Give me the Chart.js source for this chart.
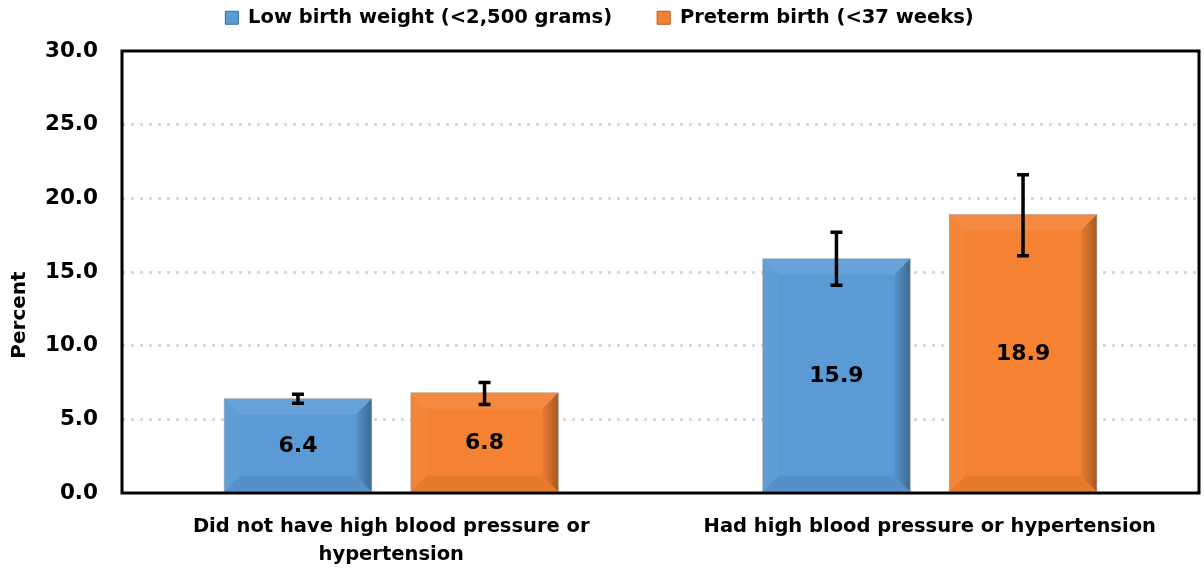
<!DOCTYPE html>
<html>
<head>
<meta charset="utf-8">
<script src="https://cdn.jsdelivr.net/npm/chart.js@4"></script>
<style>
  html, body { margin: 0; padding: 0; background: #fff; }
  #wrap { width: 1204px; height: 568px; }
</style>
</head>
<body>
<div id="wrap"><canvas id="bpChart" width="1204" height="568"></canvas></div>
<script>
// Categories and series
const categories = [
  ['Did not have high blood pressure or', 'hypertension'],
  'Had high blood pressure or hypertension'
];
const seriesNames = ['Low birth weight (<2,500 grams)', 'Preterm birth (<37 weeks)'];
const lowBirthWeight = [6.4, 15.9];
const pretermBirth = [6.8, 18.9];
// 95% confidence limits
const lowBirthWeightLo = [6.1, 14.1];
const lowBirthWeightHi = [6.7, 17.7];
const pretermBirthLo = [6.0, 16.1];
const pretermBirthHi = [7.5, 21.6];
const yTicks = [0, 5, 10, 15, 20, 25, 30];

const FONT = '"DejaVu Sans", sans-serif';
const blue = '#5b9bd5';
const orange = '#f58232';

// bevelled look for each bar
const bevelPlugin = {
  id: 'bevel',
  afterDatasetsDraw(chart) {
    const ctx = chart.ctx;
    chart.data.datasets.forEach((ds, i) => {
      chart.getDatasetMeta(i).data.forEach(bar => {
        const l = bar.x - bar.width / 2, r = bar.x + bar.width / 2;
        const t = bar.y, b = bar.base;
        const e = Math.min(16, (b - t) / 2.5);
        const poly = (pts, fill) => {
          ctx.beginPath();
          ctx.moveTo(pts[0][0], pts[0][1]);
          pts.slice(1).forEach(p => ctx.lineTo(p[0], p[1]));
          ctx.closePath();
          ctx.fillStyle = fill;
          ctx.fill();
        };
        ctx.save();
        poly([[l, t], [r, t], [r - e, t + e], [l + e, t + e]], 'rgba(255,255,255,0.08)');
        poly([[l, t], [l + e, t + e], [l + e, b - e], [l, b]], 'rgba(255,255,255,0.03)');
        const g = ctx.createLinearGradient(r - e, 0, r, 0);
        g.addColorStop(0, 'rgba(0,0,0,0.04)');
        g.addColorStop(1, 'rgba(0,0,0,0.32)');
        poly([[r, t], [r, b], [r - e, b - e], [r - e, t + e]], g);
        poly([[l, b], [r, b], [r - e, b - e], [l + e, b - e]], 'rgba(0,0,0,0.06)');
        ctx.strokeStyle = 'rgba(140,140,140,0.45)';
        ctx.lineWidth = 1;
        ctx.strokeRect(l, t, r - l, b - t);
        ctx.restore();
      });
    });
  }
};

// error bars and value labels
const errorPlugin = {
  id: 'errors',
  afterDatasetsDraw(chart) {
    const ctx = chart.ctx;
    const yScale = chart.scales.y;
    const lows = [lowBirthWeightLo, pretermBirthLo];
    const highs = [lowBirthWeightHi, pretermBirthHi];
    chart.data.datasets.forEach((ds, i) => {
      chart.getDatasetMeta(i).data.forEach((bar, j) => {
        ctx.save();
        ctx.fillStyle = '#000';
        ctx.font = 'bold 22px ' + FONT;
        ctx.textAlign = 'center';
        ctx.textBaseline = 'middle';
        ctx.fillText(ds.data[j].toFixed(1), bar.x, (bar.y + bar.base) / 2 + 1);
        const yLo = yScale.getPixelForValue(lows[i][j]);
        const yHi = yScale.getPixelForValue(highs[i][j]);
        ctx.strokeStyle = '#000';
        ctx.lineWidth = 3.5;
        ctx.beginPath();
        ctx.moveTo(bar.x, yLo);
        ctx.lineTo(bar.x, yHi);
        ctx.moveTo(bar.x - 6, yLo);
        ctx.lineTo(bar.x + 6, yLo);
        ctx.moveTo(bar.x - 6, yHi);
        ctx.lineTo(bar.x + 6, yHi);
        ctx.stroke();
        ctx.restore();
      });
    });
  }
};

// black frame around the plot area, plus the axis title
const framePlugin = {
  id: 'frame',
  afterDraw(chart) {
    const a = chart.chartArea;
    const ctx = chart.ctx;
    ctx.save();
    ctx.strokeStyle = '#000';
    ctx.lineWidth = 3;
    ctx.strokeRect(a.left, a.top, a.right - a.left, a.bottom - a.top);
    ctx.translate(20, 315);
    ctx.rotate(-Math.PI / 2);
    ctx.fillStyle = '#000';
    ctx.font = 'bold 20px ' + FONT;
    ctx.textAlign = 'center';
    ctx.textBaseline = 'middle';
    ctx.fillText('Percent', 0, 0);
    ctx.restore();
  }
};

// legend items sit far apart, so the legend box starts above the canvas
const legendShift = 37;
const legendHeight = {
  id: 'legendHeight',
  beforeInit(chart) {
    const fit = chart.legend.fit;
    chart.legend.fit = function () {
      fit.bind(chart.legend)();
      this.height = 51 + legendShift;
    };
  }
};

const ctx = document.getElementById('bpChart').getContext('2d');
new Chart(ctx, {
  type: 'bar',
  data: {
    labels: categories,
    datasets: [
      { label: seriesNames[0], data: lowBirthWeight, backgroundColor: blue, borderColor: '#2f6ea8', borderWidth: 0 },
      { label: seriesNames[1], data: pretermBirth, backgroundColor: orange, borderColor: '#b85a14', borderWidth: 0 }
    ]
  },
  options: {
    responsive: false,
    animation: false,
    categoryPercentage: 0.693,
    barPercentage: 0.79,
    layout: { padding: { left: 0, right: 5, top: -legendShift, bottom: 0 } },
    plugins: {
      legend: {
        position: 'top',
        labels: {
          color: '#000',
          font: { family: FONT, size: 19.5, weight: 'bold' },
          boxWidth: 13,
          boxHeight: 13,
          padding: 45,
          generateLabels(chart) {
            return chart.data.datasets.map((ds, i) => ({
              text: ds.label,
              fillStyle: ds.backgroundColor,
              strokeStyle: ds.borderColor,
              lineWidth: 1,
              datasetIndex: i
            }));
          }
        }
      },
      tooltip: { enabled: false }
    },
    scales: {
      x: {
        grid: { display: false },
        border: { display: false },
        ticks: {
          color: '#000',
          font: { family: FONT, size: 19.5, weight: 'bold', lineHeight: 1.45 },
          padding: 12,
          maxRotation: 0,
          autoSkip: false
        },
        afterFit(scale) { scale.height = 75; }
      },
      y: {
        min: 0,
        max: 30,
        afterBuildTicks(scale) { scale.ticks = yTicks.map(v => ({ value: v })); },
        grid: {
          color: ctx => (ctx.tick.value === 0 || ctx.tick.value === 30) ? 'rgba(0,0,0,0)' : '#d9d9d9',
          lineWidth: 3,
          drawTicks: false
        },
        border: { display: false, dash: [3, 6] },
        ticks: {
          color: '#000',
          font: { family: FONT, size: 21.5, weight: 'bold' },
          padding: 24,
          callback: v => Number(v).toFixed(1)
        },
        afterFit(scale) { scale.width = 122; }
      }
    }
  },
  plugins: [legendHeight, bevelPlugin, errorPlugin, framePlugin]
});
</script>
</body>
</html>
